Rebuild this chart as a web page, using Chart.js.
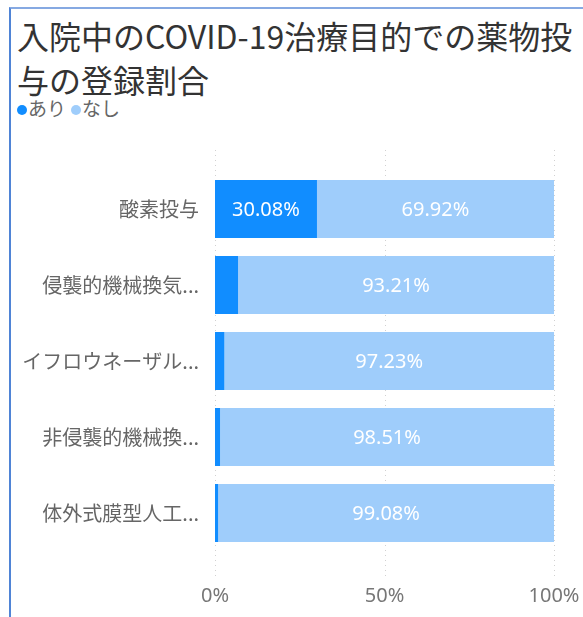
<!DOCTYPE html>
<html>
<head>
<meta charset="utf-8">
<script src="https://cdn.jsdelivr.net/npm/chart.js@4.4.1/dist/chart.umd.min.js"></script>
<style>
  body { margin: 0; background: #fff; width: 583px; height: 617px; overflow: hidden; position: relative;
         font-family: "Noto Sans CJK JP", "Noto Sans", sans-serif; }
  #frame { position: absolute; left: 9px; top: 7px; width: 620px; height: 640px;
           border-left: 2px solid #4f84d6; border-top: 2px solid #86a9e2; }
  #title { position: absolute; left: 17px; top: 13px; font-size: 32px; line-height: 44px;
           color: #333; white-space: nowrap; }
  #legend { position: absolute; left: 16px; top: 96px; font-size: 19px; line-height: 24px;
            color: #666; white-space: nowrap; }
  #legend span.dot { display: inline-block; width: 10px; height: 10px; border-radius: 50%;
                     margin: 0 1px 2px 1px; vertical-align: middle; }
  #legend span.item { margin-right: 4px; }
  canvas { position: absolute; left: 0; top: 0; }
</style>
</head>
<body>
<div id="frame"></div>
<div id="title">入院中のCOVID-19治療目的での薬物投<br>与の登録割合</div>
<div id="legend"></div>
<canvas id="chart" width="583" height="617"></canvas>
<script>
// data
const categories = ['酸素投与', '侵襲的機械換気...', 'イフロウネーザル...', '非侵襲的機械換...', '体外式膜型人工...'];
const seriesNames = ['あり', 'なし'];
const ariValues = [30.08, 6.79, 2.77, 1.49, 0.92];
const nashiValues = [69.92, 93.21, 97.23, 98.51, 99.08];
const xTicks = [0, 50, 100];
const seriesColors = ['#118DFF', '#9FCDFB'];

// legend
const legend = document.getElementById('legend');
seriesNames.forEach((name, i) => {
  const item = document.createElement('span');
  item.className = 'item';
  item.innerHTML = '<span class="dot" style="background:' + seriesColors[i] + '"></span>' + name;
  legend.appendChild(item);
});

// dotted vertical grid lines, a bit longer than the plot area
const dottedGrid = {
  id: 'dottedGrid',
  beforeDatasetsDraw(chart) {
    const ctx = chart.ctx, x = chart.scales.x, area = chart.chartArea;
    ctx.save();
    ctx.strokeStyle = 'rgba(190,190,190,0.7)';
    ctx.lineWidth = 1;
    ctx.setLineDash([1, 4]);
    xTicks.forEach(v => {
      const px = Math.round(x.getPixelForValue(v)) + 0.5;
      ctx.beginPath();
      ctx.moveTo(px, area.top - 21);
      ctx.lineTo(px, area.bottom + 26);
      ctx.stroke();
    });
    ctx.restore();
  }
};

// value labels inside the bars when they fit
const barLabels = {
  id: 'barLabels',
  afterDatasetsDraw(chart) {
    const ctx = chart.ctx;
    ctx.save();
    ctx.font = '20px "Noto Sans", sans-serif';
    ctx.fillStyle = '#ffffff';
    ctx.textAlign = 'center';
    ctx.textBaseline = 'middle';
    chart.data.datasets.forEach((ds, di) => {
      chart.getDatasetMeta(di).data.forEach((bar, i) => {
        const text = ds.data[i].toFixed(2) + '%';
        const w = Math.abs(bar.x - bar.base);
        if (ctx.measureText(text).width + 12 > w) return;
        ctx.fillText(text, (bar.x + bar.base) / 2, bar.y + 1);
      });
    });
    ctx.restore();
  }
};

new Chart(document.getElementById('chart'), {
  type: 'bar',
  data: {
    labels: categories,
    datasets: [
      { label: seriesNames[0], data: ariValues, backgroundColor: seriesColors[0] },
      { label: seriesNames[1], data: nashiValues, backgroundColor: seriesColors[1] }
    ]
  },
  options: {
    indexAxis: 'y',
    responsive: false,
    animation: false,
    datasets: { bar: { categoryPercentage: 1, barPercentage: 0.763 } },
    layout: { padding: { top: 171, right: 29, bottom: 7, left: 0 } },
    plugins: {
      legend: { display: false },
      title: { display: false },
      tooltip: { enabled: false }
    },
    scales: {
      x: {
        stacked: true,
        min: 0,
        max: 100,
        afterBuildTicks: s => { s.ticks = xTicks.map(v => ({ value: v })); },
        afterFit: s => { s.height = 59; s.paddingLeft = 0; s.paddingRight = 0; },
        grid: { display: false, drawTicks: false },
        border: { display: false },
        ticks: {
          padding: 33,
          color: '#777',
          font: { family: '"Noto Sans", sans-serif', size: 20 },
          callback: v => v + '%'
        }
      },
      y: {
        stacked: true,
        afterFit: s => { s.width = 215; s.paddingTop = 0; s.paddingBottom = 0; },
        grid: { display: false, drawTicks: false },
        border: { display: false },
        ticks: {
          padding: 16,
          color: '#666',
          font: { family: '"Noto Sans CJK JP", sans-serif', size: 20 }
        }
      }
    }
  },
  plugins: [dottedGrid, barLabels]
});
</script>
</body>
</html>
